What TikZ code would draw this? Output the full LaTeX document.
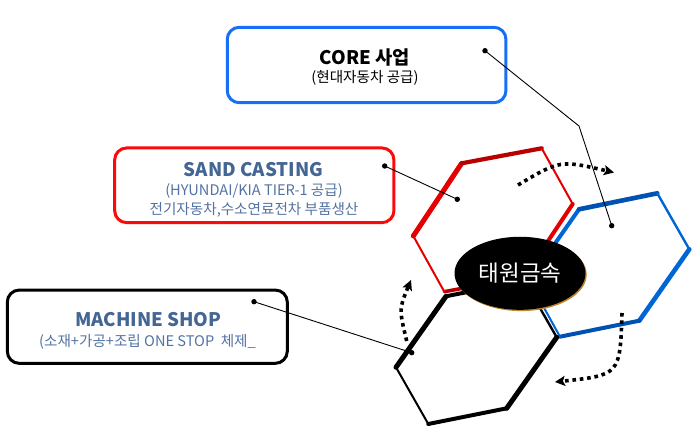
\documentclass[tikz,border=0pt]{standalone}
\usepackage{fontspec}
\setmainfont{Noto Sans CJK KR}
\usetikzlibrary{arrows.meta,shapes.geometric}
\definecolor{coreblue}{RGB}{22,112,245}
\definecolor{boxred}{RGB}{250,10,10}
\definecolor{titleblue}{RGB}{68,102,148}
\definecolor{subblue}{RGB}{82,114,162}
\definecolor{hexred}{RGB}{228,0,0}
\definecolor{hexdarkred}{RGB}{185,0,0}
\definecolor{hexblue}{RGB}{0,102,214}
\definecolor{hexdarkblue}{RGB}{0,82,178}
\definecolor{shadowgold}{RGB}{190,135,45}
\begin{document}
\begin{tikzpicture}[x=1pt,y=-1pt,
  infobox/.style={draw, rounded corners=12pt, line width=3pt, inner sep=0pt},
  titletext/.style={font=\fontsize{18.7}{20}\selectfont\bfseries, text=titleblue, anchor=base, inner sep=0pt},
  subtext/.style={font=\fontsize{14.6}{16}\selectfont, text=subblue, anchor=base, inner sep=0pt},
  hexedge/.style={line cap=round, line join=round},
  connector/.style={draw=black, line width=0.9pt},
  dotarrow/.style={line width=3.6pt, dash pattern=on 3.6pt off 3.8pt, -{Stealth[length=10pt,width=10pt,inset=2pt]}},
  hubshadow/.style={ellipse, fill=shadowgold, minimum width=131pt, minimum height=73pt, inner sep=0pt},
  hub/.style={ellipse, fill=black, minimum width=131pt, minimum height=73pt, inner sep=0pt, text=white, font=\fontsize{22.5}{24}\selectfont}
]
\useasboundingbox (0,0) rectangle (697,438);

% ---------- hexagon vertices ----------
\coordinate (rL) at (413.3,236);   \coordinate (rTL) at (461.7,163.3);
\coordinate (rTR) at (541.7,148.3); \coordinate (rR) at (572.7,204);
\coordinate (rBR) at (524.3,276.7); \coordinate (rBL) at (444.3,291.7);

\coordinate (bL) at (529,280.7);   \coordinate (bTL) at (579,209.3);
\coordinate (bTR) at (657.3,193.3); \coordinate (bR) at (689.3,249.3);
\coordinate (bBR) at (639.3,320.7); \coordinate (bBL) at (560,336.7);

\coordinate (kL) at (396,367.3);   \coordinate (kTL) at (446,296.3);
\coordinate (kTR) at (524.3,280.7); \coordinate (kR) at (556.7,337.3);
\coordinate (kBR) at (506.7,408.3); \coordinate (kBL) at (428.3,424);

% ---------- red hexagon ----------
\draw[hexedge, hexred, line width=5pt] (rL) -- (rTL);
\draw[hexedge, hexdarkred, line width=4.2pt] (rTL) -- (rTR);
\draw[hexedge, hexred, line width=2pt] (rTR) -- (rR);
\draw[hexedge, hexred, line width=4pt] (rR) -- (rBR);
\draw[hexedge, hexdarkred, line width=3.6pt] (rBR) -- (rBL);
\draw[hexedge, hexred, line width=2pt] (rBL) -- (rL);

% ---------- blue hexagon ----------
\draw[hexedge, hexblue, line width=4pt] (bL) -- (bTL);
\draw[hexedge, hexdarkblue, line width=4.6pt] (bTL) -- (bTR);
\draw[hexedge, hexblue, line width=2.4pt] (bTR) -- (bR);
\draw[hexedge, hexblue, line width=4.6pt] (bR) -- (bBR);
\draw[hexedge, hexdarkblue, line width=4pt] (bBR) -- (bBL);
\draw[hexedge, hexblue, line width=2pt] (bBL) -- (bL);

% ---------- black hexagon ----------
\draw[hexedge, black, line width=5pt] (kL) -- (kTL);
\draw[hexedge, black, line width=4pt] (kTL) -- (kTR);
\draw[hexedge, black, line width=2.4pt] (kTR) -- (kR);
\draw[hexedge, black, line width=5pt] (kR) -- (kBR);
\draw[hexedge, black, line width=4pt] (kBR) -- (kBL);
\draw[hexedge, black, line width=2pt] (kBL) -- (kL);

% ---------- dotted rotation arrows ----------
\coordinate (a1s) at (518,185);   \coordinate (a1c) at (560,160);   \coordinate (a1e) at (614,172.5);
\coordinate (a2s) at (622,313);   \coordinate (a2c) at (620,375);   \coordinate (a2e) at (555,382);
\coordinate (a3s) at (406.7,341); \coordinate (a3c) at (399,309);   \coordinate (a3e) at (411,280);
\draw[dotarrow] (a1s) .. controls (a1c) .. (a1e);
\draw[dotarrow] (a2s) .. controls (a2c) .. (a2e);
\draw[dotarrow] (a3s) .. controls (a3c) .. (a3e);

% ---------- centre hub ----------
\node[hubshadow] (hubshade) at (521.2,274.6) {};
\node[hub] (hub) at (520,273.3) {태원금속};

% ---------- boxes ----------
\node[infobox, draw=coreblue, minimum width=278.7pt, minimum height=75.4pt] (corebox) at (366.6,65) {};
\node[infobox, draw=boxred, minimum width=279.3pt, minimum height=74.7pt] (sandbox) at (254.3,185.3) {};
\node[infobox, draw=black, minimum width=280pt, minimum height=73.3pt] (machbox) at (147.3,326.7) {};

\node[titletext, text=black] (coretitle) at (365,64.2) {CORE 사업};
\node[subtext, text=black] (coresub) at (365,83) {(현대자동차 공급)};

\node[titletext] (sandtitle) at (253.5,176.2) {SAND CASTING};
\node[subtext] (sandsub1) at (254,195.2) {(HYUNDAI/KIA TIER-1 공급)};
\node[subtext] (sandsub2) at (254,214.5) {전기자동차,수소연료전차 부품생산};

\node[titletext] (machtitle) at (148.3,326.4) {MACHINE SHOP};
\node[subtext] (machsub) at (147.5,346.3) {(소재+가공+조립 ONE STOP\ \ 체제\_};

% ---------- connectors ----------
\coordinate (coreDot) at (485,50.7);
\coordinate (coreBend) at (579,126);
\coordinate (blueDot) at (611.7,225.7);
\coordinate (sandDot) at (384.7,166);
\coordinate (redDot) at (457.3,199.3);
\coordinate (machDot) at (254,301.7);
\coordinate (blackDot) at (411.7,352.7);

\draw[connector] (coreDot) -- (coreBend) -- (blueDot);
\draw[connector] (sandDot) -- (redDot);
\draw[connector] (machDot) -- (blackDot);
\foreach \p in {coreDot,blueDot,sandDot,redDot,machDot,blackDot}
  \fill (\p) circle (2.7pt);
\end{tikzpicture}
\end{document}
